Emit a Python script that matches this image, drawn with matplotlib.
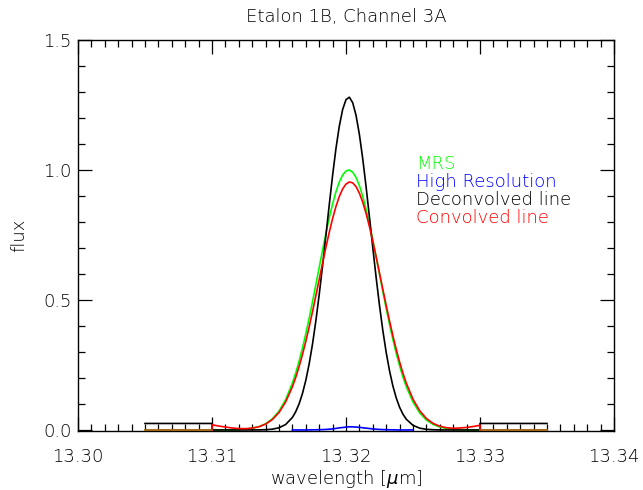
import matplotlib
matplotlib.use("Agg")
import matplotlib.pyplot as plt
from matplotlib.ticker import MultipleLocator, FormatStrFormatter

# Wavelength grid of the central window [um]
wave = [13.3100, 13.3105, 13.3110, 13.3115, 13.3120, 13.3125, 13.3130, 13.3135,
        13.3140, 13.3145, 13.3150, 13.3155,
        13.3160, 13.31625, 13.3165, 13.31675, 13.3170, 13.31725, 13.3175,
        13.31775, 13.3180, 13.31825, 13.3185, 13.31875, 13.3190, 13.31925,
        13.3195, 13.31975, 13.3200, 13.32025, 13.3205, 13.32075, 13.3210,
        13.32125, 13.3215, 13.32175, 13.3220, 13.32225, 13.3225, 13.32275,
        13.3230, 13.32325, 13.3235, 13.32375, 13.3240, 13.32425, 13.3245,
        13.3250, 13.3255, 13.3260, 13.3265, 13.3270, 13.3275, 13.3280,
        13.3285, 13.3290, 13.3295, 13.3300]

# MRS line profile
mrs = [0.0000, 0.0001, 0.0003, 0.0006, 0.0015, 0.0032, 0.0065, 0.0128,
       0.0240, 0.0427, 0.0725, 0.1173,
       0.1806, 0.2200, 0.2649, 0.3151, 0.3702, 0.4298, 0.4930, 0.5585,
       0.6252, 0.6914, 0.7555, 0.8155, 0.8696, 0.9162, 0.9536, 0.9805,
       0.9961, 1.0000, 0.9913, 0.9711, 0.9398, 0.8985, 0.8487, 0.7921,
       0.7302, 0.6651, 0.5985, 0.5321, 0.4673, 0.4055, 0.3476, 0.2944,
       0.2463, 0.2036, 0.1663,
       0.1069, 0.0655, 0.0382, 0.0213, 0.0113, 0.0057, 0.0027, 0.0013,
       0.0005, 0.0002, 0.0001]

# Deconvolved line
deconv = [0.0000, 0.0000, 0.0000, 0.0000, 0.0000, 0.0000, 0.0001, 0.0003,
          0.0010, 0.0030, 0.0084, 0.0211,
          0.0482, 0.0704, 0.1004, 0.1400, 0.1908, 0.2539, 0.3301, 0.4194,
          0.5205, 0.6312, 0.7480, 0.8659, 0.9793, 1.0823, 1.1686, 1.2327,
          1.2705, 1.2800, 1.2588, 1.2100, 1.1364, 1.0428, 0.9349, 0.8189,
          0.7008, 0.5860, 0.4788, 0.3821, 0.2980, 0.2271, 0.1691, 0.1230,
          0.0874, 0.0607, 0.0412,
          0.0177, 0.0069, 0.0025, 0.0008, 0.0002, 0.0000, 0.0000, 0.0000,
          0.0000, 0.0000, 0.0000]

# Convolved line
conv = [0.0200, 0.0151, 0.0113, 0.0076, 0.0054, 0.0050, 0.0072, 0.0121,
        0.0224, 0.0397, 0.0670, 0.1081,
        0.1662, 0.2024, 0.2437, 0.2899, 0.3408, 0.3960, 0.4547, 0.5160,
        0.5786, 0.6413, 0.7023, 0.7602, 0.8132, 0.8596, 0.8980, 0.9271,
        0.9459, 0.9538, 0.9504, 0.9359, 0.9108, 0.8760, 0.8326, 0.7821,
        0.7259, 0.6660, 0.6037, 0.5409, 0.4790, 0.4191, 0.3624, 0.3097,
        0.2616, 0.2183, 0.1801,
        0.1182, 0.0740, 0.0442, 0.0252, 0.0142, 0.0086, 0.0065, 0.0077,
        0.0097, 0.0133, 0.0181]

# High resolution spectrum (narrow window)
hr_wave = [13.3160, 13.3165, 13.3170, 13.3175, 13.3180, 13.3185, 13.3190,
           13.3195, 13.3200, 13.3202, 13.3205, 13.3210, 13.3215, 13.3220,
           13.3225, 13.3230, 13.3235, 13.3240, 13.3245, 13.3250]
hr_flux = [0.0000, 0.0000, 0.0000, 0.0005, 0.0010, 0.0020, 0.0040,
           0.0080, 0.0110, 0.0120, 0.0120, 0.0100, 0.0070, 0.0040,
           0.0020, 0.0010, 0.0005, 0.0000, 0.0000, 0.0000]

# Outer side bands
side_left = [13.305, 13.310]
side_right = [13.330, 13.335]
pedestal = 0.025

xticks = [13.30, 13.31, 13.32, 13.33, 13.34]
yticks = [0.0, 0.5, 1.0, 1.5]

plt.rcParams['font.family'] = ['DejaVu Sans']
plt.rcParams['font.weight'] = 'light'
plt.rcParams['axes.titleweight'] = 'light'
plt.rcParams['axes.labelweight'] = 'light'
plt.rcParams['mathtext.fontset'] = 'dejavusans'

fig = plt.figure(figsize=(6.43, 4.90), dpi=100)
ax = fig.add_axes([78 / 643, 59 / 490, 536 / 643, 391 / 490])

lw = 1.2
# MRS
ax.plot(side_left + wave + side_right,
        [0, 0] + mrs + [0, 0], color='#00ff00', lw=lw, zorder=2)
# High resolution
ax.plot(hr_wave, hr_flux, color='#0000ff', lw=lw, zorder=3)
# Deconvolved line with side pedestal
ax.plot(side_left + [side_left[1]] + wave + [side_right[0]] + side_right,
        [pedestal, pedestal, 0] + deconv + [0, pedestal, pedestal],
        color='black', lw=lw, zorder=4)
# Convolved line
ax.plot([side_left[1]] + wave + [side_right[0]],
        [0] + conv + [0], color='#ff0000', lw=lw, zorder=5)
for seg in (side_left, side_right):
    ax.plot(seg, [0, 0], color='#c0501a', lw=lw, zorder=5)

ax.set_xlim(13.30, 13.34)
ax.set_ylim(-0.004, 1.5)
ax.set_xticks(xticks)
ax.set_yticks(yticks)
ax.xaxis.set_major_formatter(FormatStrFormatter('%.2f'))
ax.yaxis.set_major_formatter(FormatStrFormatter('%.1f'))
ax.xaxis.set_minor_locator(MultipleLocator(0.001))
ax.yaxis.set_minor_locator(MultipleLocator(0.1))
ax.tick_params(which='both', direction='in', top=True, right=True,
               labelsize=13, colors='black', width=0.9)
ax.tick_params(which='major', length=10)
ax.tick_params(which='minor', length=5)
ax.tick_params(axis='x', which='major', pad=12)
ax.tick_params(axis='y', which='major', pad=4.5)
for s in ax.spines.values():
    s.set_linewidth(1.0)

ax.set_title('Etalon 1B, Channel 3A', fontsize=13, pad=13, fontweight='light')
ax.set_xlabel('wavelength [$\\mu$m]', fontsize=13, labelpad=2,
              fontweight='light')
ax.set_ylabel('flux', fontsize=13, labelpad=11, fontweight='light')

labels = ['MRS', 'High Resolution', 'Deconvolved line', 'Convolved line']
colors = ['#00ff00', '#0000ff', 'black', '#ff0000']
baselines = [169, 187, 205, 223]
for lab, col, py in zip(labels, colors, baselines):
    fig.text(416 / 643, 1 - py / 490, lab, color=col, fontsize=13,
             ha='left', va='baseline', fontweight='light')

fig.savefig('out.png', dpi=100)
